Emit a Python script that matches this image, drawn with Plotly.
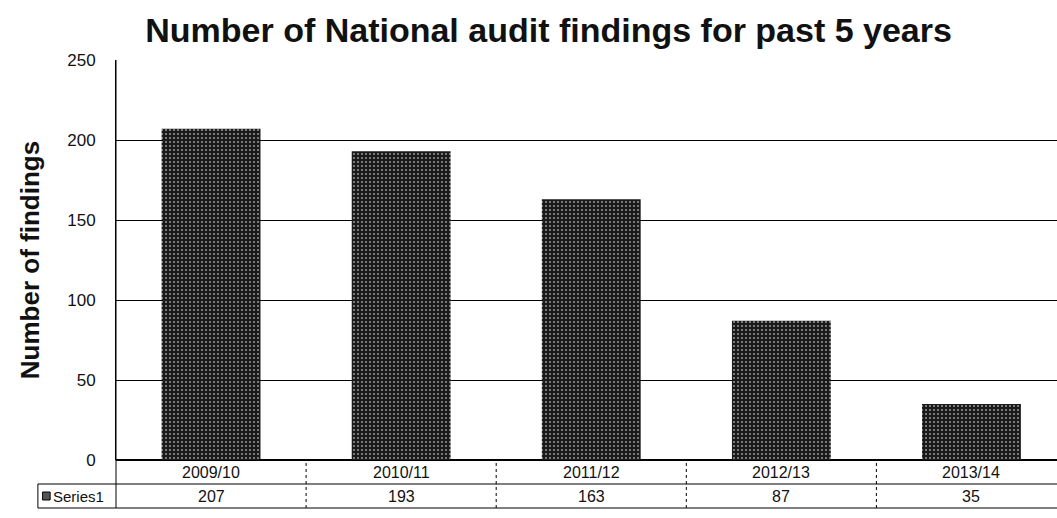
import plotly.graph_objects as go

categories = ["2009/10", "2010/11", "2011/12", "2012/13", "2013/14"]
values = [207, 193, 163, 87, 35]
series_name = "Series1"
y_ticks = [0, 50, 100, 150, 200, 250]

FONT = "Liberation Sans, Arial, sans-serif"
TXT = "#111111"

fig = go.Figure()
fig.add_trace(go.Bar(
    x=categories, y=values, name=series_name, width=0.52,
    marker=dict(color="#1a1a1a", line=dict(width=0),
                pattern=dict(shape=".", fgcolor="#9a9a9a", bgcolor="#1a1a1a",
                             size=4, solidity=0.2, fillmode="replace")),
    showlegend=False,
))

shapes = []
row_top, row_mid, row_bot = 0.0, -0.06, -0.12
left_cell = -0.083
shapes.append(dict(type="line", xref="paper", yref="paper", x0=left_cell, x1=1, y0=row_mid, y1=row_mid,
                   line=dict(color="black", width=1)))
shapes.append(dict(type="line", xref="paper", yref="paper", x0=left_cell, x1=1, y0=row_bot, y1=row_bot,
                   line=dict(color="black", width=1)))
shapes.append(dict(type="line", xref="paper", yref="paper", x0=left_cell, x1=left_cell, y0=row_bot, y1=row_mid,
                   line=dict(color="black", width=1)))
shapes.append(dict(type="line", xref="paper", yref="paper", x0=0, x1=0, y0=row_bot, y1=1,
                   line=dict(color="black", width=1)))
for i in range(len(categories) - 1):
    shapes.append(dict(type="line", xref="x", yref="paper", x0=i + 0.5, x1=i + 0.5, y0=row_bot, y1=row_top,
                       line=dict(color="black", width=1, dash="dot")))
shapes.append(dict(type="rect", xref="paper", yref="paper", x0=-0.078, x1=-0.07, y0=-0.1, y1=-0.08,
                   line=dict(color="black", width=1), fillcolor="#555555"))

annotations = []
for c, v in zip(categories, values):
    annotations.append(dict(x=c, y=-0.03, xref="x", yref="paper", text=c, showarrow=False,
                            yanchor="middle", xanchor="center",
                            font=dict(size=16, color=TXT, family=FONT)))
    annotations.append(dict(x=c, y=-0.09, xref="x", yref="paper", text=str(v), showarrow=False,
                            yanchor="middle", xanchor="center",
                            font=dict(size=16, color=TXT, family=FONT)))
annotations.append(dict(x=-0.069, y=-0.09, xref="paper", yref="paper", text=series_name, showarrow=False,
                        xanchor="left", yanchor="middle", font=dict(size=15, color=TXT, family=FONT)))

fig.update_layout(
    width=1057, height=518,
    margin=dict(l=116, r=0, t=60, b=58),
    paper_bgcolor="white", plot_bgcolor="white",
    title=dict(text="<b>Number of National audit findings for past 5 years</b>",
               x=0.519, xanchor="center", y=0.942, yanchor="middle",
               font=dict(size=34, color=TXT, family=FONT)),
    xaxis=dict(range=[-0.5, 4.45], showticklabels=False, showgrid=False, zeroline=False,
               showline=False, ticks=""),
    yaxis=dict(range=[0, 250], tickvals=y_ticks, showgrid=True, gridcolor="black", gridwidth=1,
               zeroline=True, zerolinecolor="black", zerolinewidth=1.5,
               showline=True, linecolor="black", linewidth=1, ticks="", ticklen=0,
               ticklabelstandoff=16,
               tickfont=dict(size=17, color=TXT, family=FONT),
               title=dict(text="<b>Number of findings</b>", standoff=20,
                          font=dict(size=26, color=TXT, family=FONT))),
    shapes=shapes, annotations=annotations,
    bargap=0.48,
)

fig.write_html("out.html")
